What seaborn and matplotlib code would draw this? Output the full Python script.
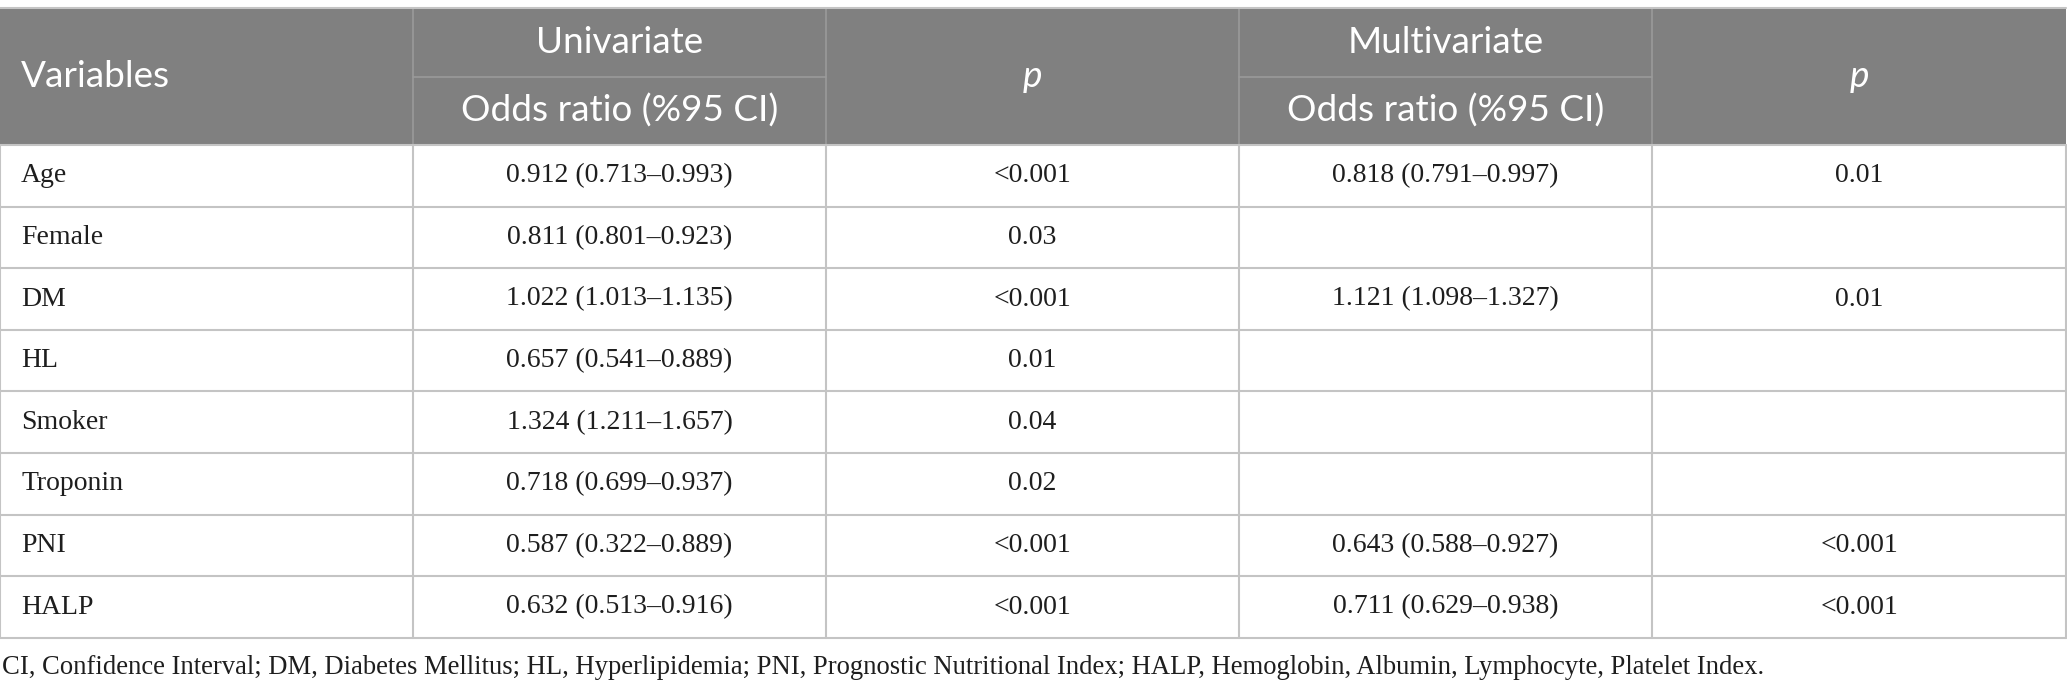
import matplotlib
matplotlib.use("Agg")
import matplotlib.pyplot as plt
import seaborn as sns
from matplotlib.patches import Rectangle

sns.set_theme(style="white")

# ---- data ----
variables = ["Age", "Female", "DM", "HL", "Smoker", "Troponin", "PNI", "HALP"]
uni_or = ["0.912 (0.713–0.993)", "0.811 (0.801–0.923)", "1.022 (1.013–1.135)",
          "0.657 (0.541–0.889)", "1.324 (1.211–1.657)", "0.718 (0.699–0.937)",
          "0.587 (0.322–0.889)", "0.632 (0.513–0.916)"]
uni_p = ["<0.001", "0.03", "<0.001", "0.01", "0.04", "0.02", "<0.001", "<0.001"]
multi_or = ["0.818 (0.791–0.997)", "", "1.121 (1.098–1.327)", "", "", "",
            "0.643 (0.588–0.927)", "0.711 (0.629–0.938)"]
multi_p = ["0.01", "", "0.01", "", "", "", "<0.001", "<0.001"]
header_top = ["Variables", "Univariate", "p", "Multivariate", "p"]
header_sub = "Odds ratio (%95 CI)"
footnote = ("CI, Confidence Interval; DM, Diabetes Mellitus; HL, Hyperlipidemia; "
            "PNI, Prognostic Nutritional Index; HALP, Hemoglobin, Albumin, "
            "Lymphocyte, Platelet Index.")

W, H = 2067, 693
fig = plt.figure(figsize=(W / 100, H / 100), dpi=100)
ax = fig.add_axes([0, 0, 1, 1])
ax.set_xlim(0, W)
ax.set_ylim(H, 0)
ax.axis("off")

col_edges = [0, 413, 826, 1239, 1652, 2066]
y_top, y_mid, y_hb = 8, 77, 145
row_h = 61.6
n = len(variables)
y_bottom = y_hb + n * row_h

HEAD = "#808080"
HLINE = "#9a9a9a"
GRID = "#c4c4c4"
TXT = "#1e1e1e"
sans = ["Lato", "Open Sans", "DejaVu Sans"]
serif = ["Liberation Serif", "DejaVu Serif"]

renderer = fig.canvas.get_renderer()


def fit_size(text, family, target_px, base=18.0):
    t = ax.text(0, 0, text, fontsize=base, family=family)
    w = t.get_window_extent(renderer=renderer).width
    t.remove()
    return base * target_px / w


hsize = fit_size(header_sub, sans, 316)
bsize = fit_size(uni_or[0], serif, 226)
fsize = fit_size(footnote, serif, 1768)

# header background
ax.add_patch(Rectangle((0, y_top), col_edges[-1], y_hb - y_top, color=HEAD, lw=0, zorder=1))
ax.plot([0, col_edges[-1]], [y_top, y_top], color=GRID, lw=1.5, zorder=3)
# header inner lines
for x in col_edges[1:-1]:
    ax.plot([x, x], [y_top, y_hb], color=HLINE, lw=1.2, zorder=2)
for c in (1, 3):
    ax.plot([col_edges[c], col_edges[c + 1]], [y_mid, y_mid], color=HLINE, lw=1.2, zorder=2)

# body grid
for i in range(n + 1):
    y = y_hb + i * row_h
    ax.plot([0, col_edges[-1]], [y, y], color=GRID, lw=1.5, zorder=3)
for x in col_edges:
    ax.plot([x, x], [y_hb, y_bottom], color=GRID, lw=1.5, zorder=3)

# header text
ax.text(21, (y_top + y_hb) / 2, header_top[0], color="white", fontsize=hsize,
        family=sans, weight="normal", ha="left", va="center", zorder=4)
for c in (1, 3):
    cx = (col_edges[c] + col_edges[c + 1]) / 2
    ax.text(cx, (y_top + y_mid) / 2, header_top[c], color="white", fontsize=hsize,
            family=sans, weight="normal", ha="center", va="center", zorder=4)
    ax.text(cx, (y_mid + y_hb) / 2, header_sub, color="white", fontsize=hsize,
            family=sans, weight="normal", ha="center", va="center", zorder=4)
for c in (2, 4):
    cx = (col_edges[c] + col_edges[c + 1]) / 2
    ax.text(cx, (y_top + y_hb) / 2, header_top[c], color="white", fontsize=hsize,
            family=sans, weight="normal", style="italic", ha="center", va="center", zorder=4)

# body text
cols = [uni_or, uni_p, multi_or, multi_p]
for i in range(n):
    yc = y_hb + (i + 0.5) * row_h
    ax.text(21, yc, variables[i], color=TXT, fontsize=bsize, family=serif,
            ha="left", va="center", zorder=4)
    for j, colvals in enumerate(cols):
        cx = (col_edges[j + 1] + col_edges[j + 2]) / 2
        ax.text(cx, yc, colvals[i], color=TXT, fontsize=bsize, family=serif,
                ha="center", va="center", zorder=4)

ax.text(2, 668, footnote, color=TXT, fontsize=fsize, family=serif,
        ha="left", va="center", zorder=4)

fig.savefig("out.png", dpi=100, facecolor="white")
